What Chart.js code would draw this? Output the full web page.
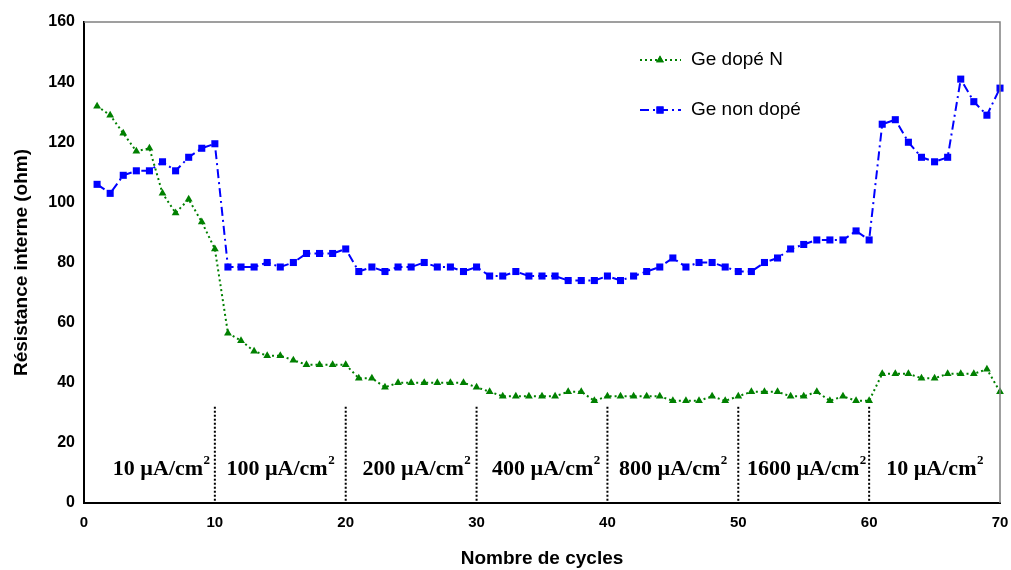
<!DOCTYPE html>
<html lang="fr">
<head>
    <meta charset="UTF-8">
    <title>Résistance interne vs nombre de cycles</title>
    <script src="https://cdn.jsdelivr.net/npm/chart.js"></script>
    <style>
        body { margin: 0; padding: 0; background: #fff; }
        #wrap { width: 1011px; height: 570px; }
    </style>
</head>
<body>
    <div id="wrap"><canvas id="resChart" width="1011" height="570"></canvas></div>

    <script>
        // Données
        const cycles = [];
        for (let i = 1; i <= 70; i++) cycles.push(i);

        const geDopeN = [
            132, 129, 123, 117, 118, 103, 96.5, 101, 93.5, 84.5,
            56.5, 54, 50.5, 49, 49, 47.5, 46, 46, 46, 46,
            41.5, 41.5, 38.5, 40, 40, 40, 40, 40, 40, 38.5,
            37, 35.5, 35.5, 35.5, 35.5, 35.5, 37, 37, 34, 35.5,
            35.5, 35.5, 35.5, 35.5, 34, 34, 34, 35.5, 34, 35.5,
            37, 37, 37, 35.5, 35.5, 37, 34, 35.5, 34, 34,
            43, 43, 43, 41.5, 41.5, 43, 43, 43, 44.5, 37
        ];

        const geNonDope = [
            106, 103, 109, 110.5, 110.5, 113.5, 110.5, 115, 118, 119.5,
            78.5, 78.5, 78.5, 80, 78.5, 80, 83, 83, 83, 84.5,
            77, 78.5, 77, 78.5, 78.5, 80, 78.5, 78.5, 77, 78.5,
            75.5, 75.5, 77, 75.5, 75.5, 75.5, 74, 74, 74, 75.5,
            74, 75.5, 77, 78.5, 81.5, 78.5, 80, 80, 78.5, 77,
            77, 80, 81.5, 84.5, 86, 87.5, 87.5, 87.5, 90.5, 87.5,
            126, 127.5, 120, 115, 113.5, 115, 141, 133.5, 129, 138
        ];

        // séparations entre régimes de courant
        const dividers = [10, 20, 30, 40, 50, 60];
        const dividerTop = 32;
        const regimeLabels = ['10', '100', '200', '400', '800', '1600', '10'];
        const regimeX = [5.9, 15, 25.4, 35.3, 45, 55.2, 65];
        const regimeY = 11.3;

        const GREEN = '#008000';
        const BLUE = '#0000ff';

        const annotations = {
            id: 'annotations',
            afterDatasetsDraw(chart) {
                const ctx = chart.ctx;
                const x = chart.scales.x, y = chart.scales.y;
                const area = chart.chartArea;
                ctx.save();

                // cadre gris haut/droite
                ctx.strokeStyle = '#808080';
                ctx.lineWidth = 1.5;
                ctx.beginPath();
                ctx.moveTo(area.left, area.top);
                ctx.lineTo(area.right, area.top);
                ctx.lineTo(area.right, area.bottom);
                ctx.stroke();

                // lignes pointillées verticales
                ctx.strokeStyle = '#000';
                ctx.lineWidth = 2;
                ctx.setLineDash([2, 2]);
                dividers.forEach(d => {
                    ctx.beginPath();
                    ctx.moveTo(x.getPixelForValue(d), y.getPixelForValue(dividerTop));
                    ctx.lineTo(x.getPixelForValue(d), y.getPixelForValue(0));
                    ctx.stroke();
                });
                ctx.setLineDash([]);

                // étiquettes de densité de courant
                const big = 'bold 22px "Liberation Serif", "Times New Roman", serif';
                const sup = 'bold 13px "Liberation Serif", "Times New Roman", serif';
                ctx.fillStyle = '#000';
                ctx.textBaseline = 'middle';
                ctx.textAlign = 'left';
                regimeLabels.forEach((lab, i) => {
                    const main = lab + ' \u00b5A/cm';
                    ctx.font = big;
                    const w1 = ctx.measureText(main).width;
                    ctx.font = sup;
                    const w2 = ctx.measureText('2').width;
                    const cx = x.getPixelForValue(regimeX[i]);
                    const cy = y.getPixelForValue(regimeY);
                    const x0 = cx - (w1 + w2) / 2;
                    ctx.font = big;
                    ctx.fillText(main, x0, cy);
                    ctx.font = sup;
                    ctx.fillText('2', x0 + w1 + 0.5, cy - 8);
                });

                // légende
                const items = [
                    { text: 'Ge dopé N', color: GREEN, dash: [2, 3], style: 'triangle', r: 4.5, ly: 60 },
                    { text: 'Ge non dopé', color: BLUE, dash: [9, 4, 2, 4], style: 'rect', r: 5, ly: 110 }
                ];
                items.forEach(it => {
                    ctx.strokeStyle = it.color;
                    ctx.lineWidth = 2;
                    ctx.setLineDash(it.dash);
                    ctx.beginPath();
                    ctx.moveTo(640, it.ly);
                    ctx.lineTo(681, it.ly);
                    ctx.stroke();
                    ctx.setLineDash([]);
                    ctx.fillStyle = it.color;
                    Chart.helpers.drawPoint(ctx, { pointStyle: it.style, radius: it.r, rotation: 0, borderWidth: 0 }, 660, it.ly);
                    ctx.fill();
                    ctx.fillStyle = '#000';
                    ctx.font = '19px Arial, "Liberation Sans", sans-serif';
                    ctx.fillText(it.text, 691, it.ly);
                });
                ctx.restore();
            }
        };

        new Chart(document.getElementById('resChart').getContext('2d'), {
            type: 'line',
            data: {
                labels: cycles,
                datasets: [
                    {
                        label: 'Ge dopé N',
                        data: cycles.map((c, i) => ({ x: c, y: geDopeN[i] })),
                        borderColor: GREEN,
                        backgroundColor: GREEN,
                        borderWidth: 2,
                        borderDash: [2, 3],
                        pointStyle: 'triangle',
                        pointRadius: 4.5,
                        pointBorderWidth: 0,
                        clip: false,
                        tension: 0
                    },
                    {
                        label: 'Ge non dopé',
                        data: cycles.map((c, i) => ({ x: c, y: geNonDope[i] })),
                        borderColor: BLUE,
                        backgroundColor: BLUE,
                        borderWidth: 2,
                        borderDash: [9, 4, 2, 4],
                        pointStyle: 'rect',
                        pointRadius: 5,
                        pointBorderWidth: 0,
                        clip: false,
                        tension: 0
                    }
                ]
            },
            options: {
                responsive: false,
                animation: false,
                layout: { padding: { top: 22, right: 11, left: 0, bottom: 0 } },
                plugins: {
                    legend: { display: false },
                    tooltip: { enabled: false }
                },
                scales: {
                    x: {
                        type: 'linear',
                        min: 0, max: 70,
                        afterFit: s => { s.height = 67; s.paddingRight = 0; s.paddingLeft = 0; },
                        grid: { display: false, drawOnChartArea: false, tickLength: 6, tickColor: '#000' },
                        border: { color: '#000', width: 2 },
                        ticks: {
                            stepSize: 5,
                            autoSkip: false,
                            maxRotation: 0,
                            padding: 5,
                            color: '#000',
                            font: { family: 'Arial, "Liberation Sans"', size: 15, weight: 'bold' },
                            callback: v => (v % 10 === 0 ? v : '')
                        },
                        title: {
                            display: true,
                            text: 'Nombre de cycles',
                            color: '#000',
                            padding: { top: 6, bottom: 0 },
                            font: { family: 'Arial, "Liberation Sans"', size: 19, weight: 'bold' }
                        }
                    },
                    y: {
                        min: 0, max: 160,
                        afterFit: s => { s.width = 84; },
                        grid: { display: false, drawOnChartArea: false, tickLength: 6, tickColor: '#000' },
                        border: { color: '#000', width: 2 },
                        ticks: {
                            stepSize: 10,
                            autoSkip: false,
                            padding: 3,
                            color: '#000',
                            font: { family: 'Arial, "Liberation Sans"', size: 16, weight: 'bold' },
                            callback: v => (v % 20 === 0 ? v : '')
                        },
                        title: {
                            display: true,
                            text: 'Résistance interne (ohm)',
                            color: '#000',
                            padding: { top: 10, bottom: 0 },
                            font: { family: 'Arial, "Liberation Sans"', size: 19, weight: 'bold' }
                        }
                    }
                }
            },
            plugins: [annotations]
        });
    </script>
</body>
</html>
